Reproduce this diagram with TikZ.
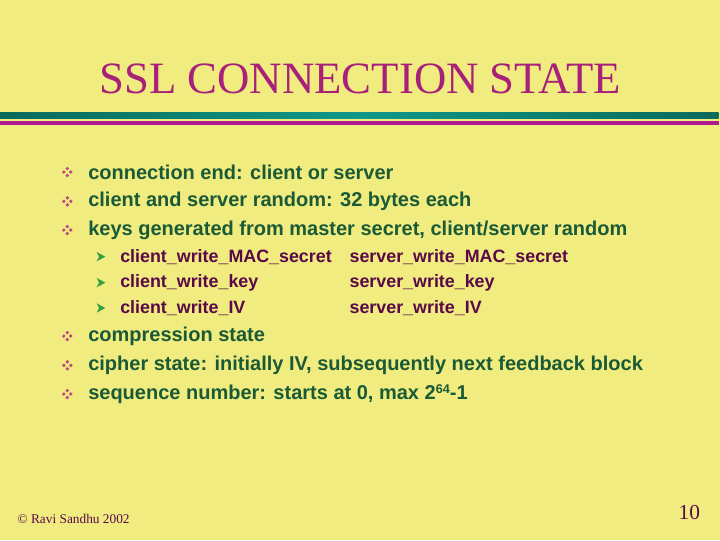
\documentclass[tikz,border=0pt]{standalone}
\usepackage{fontspec}
\setmainfont{Liberation Serif}
\newfontfamily\arial{Liberation Sans}
\definecolor{bg}{HTML}{F0EC80}
\definecolor{ttl}{HTML}{A8207A}
\definecolor{txtg}{HTML}{1A5A36}
\definecolor{txtp}{HTML}{5A0848}
\definecolor{tealA}{HTML}{0A6A5A}
\definecolor{tealB}{HTML}{109888}
\definecolor{mag}{HTML}{B01890}
\definecolor{dia}{HTML}{C04880}
\definecolor{arr}{HTML}{30A040}
\begin{document}
\begin{tikzpicture}[x=1pt,y=-1pt,
  main/.style={anchor=west,inner sep=0,font=\arial\bfseries\fontsize{15}{17}\selectfont,text=txtg},
  sub/.style={anchor=west,inner sep=0,font=\arial\bfseries\fontsize{13.4}{15}\selectfont,text=txtp},
  dd/.pic={\foreach \dx/\dy in {0/-2.6,0/2.6,-2.6/0,2.6/0}{\fill[dia] (\dx-1.4,\dy) -- (\dx,\dy-1.4) -- (\dx+1.4,\dy) -- (\dx,\dy+1.4) -- cycle;}},
  ar/.pic={\fill[arr] (-3,-3.5) -- (3.5,0) -- (-3,3.5) -- (-1.2,0) -- cycle;}]
\fill[bg] (0,0) rectangle (540,405);
\useasboundingbox (0,0) rectangle (540,405);
\node[inner sep=0,font=\fontsize{33.6}{38}\selectfont,text=ttl] (title) at (270,59) {SSL CONNECTION STATE};
\shade[left color=tealA,right color=tealA,middle color=tealB] (0,84) rectangle (539,89);
\fill[mag] (0,91) rectangle (539,94);
\foreach \y/\t [count=\i] in {129/connection end: client or server,
  151/client and server random: 32 bytes each,
  172.5/{keys generated from master secret, client/server random},
  252/compression state,
  274/{cipher state: initially IV, subsequently next feedback block}}{
  \pic at (50.5,\y) {dd};
  \node[main] (m\i) at (66,\y) {\t};
}
\pic at (50.5,295.5) {dd};
\node[main] (m6) at (66,295.5) {sequence number: starts at 0, max 2\raisebox{0.5ex}{\fontsize{9.5}{10}\selectfont 64}-1};
\foreach \y/\a/\b [count=\i] in {192.5/client\_write\_MAC\_secret/server\_write\_MAC\_secret,
  212/client\_write\_key/server\_write\_key,
  231/client\_write\_IV/server\_write\_IV}{
  \pic at (75.5,\y) {ar};
  \node[sub] (a\i) at (90,\y) {\a};
  \node[sub] (b\i) at (262,\y) {\b};
}
\node[anchor=west,inner sep=0,font=\fontsize{10}{12}\selectfont,text=txtp] (foot) at (13,389) {\textcopyright{} Ravi Sandhu 2002};
\node[inner sep=0,font=\fontsize{16}{18}\selectfont,text=txtp] (pg) at (517,384) {10};
\end{tikzpicture}
\end{document}
